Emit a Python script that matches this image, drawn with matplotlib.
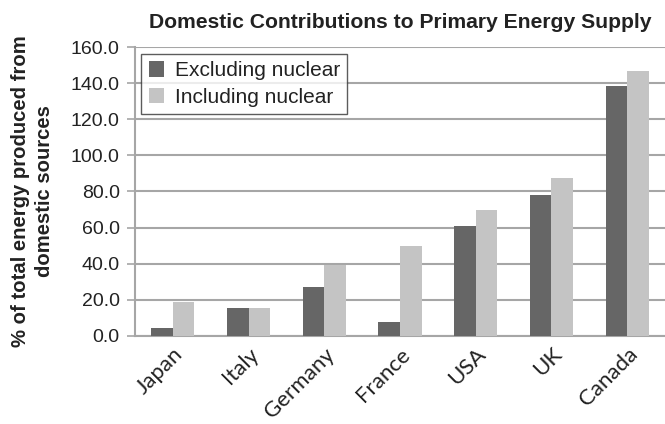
import numpy as np
import matplotlib.pyplot as plt
import matplotlib as mpl
from matplotlib.transforms import ScaledTranslation

countries = ["Japan", "Italy", "Germany", "France", "USA", "UK", "Canada"]
excl_nuclear = [4.1, 15.2, 26.8, 7.4, 60.7, 78.0, 138.6]
incl_nuclear = [18.8, 15.2, 39.0, 49.5, 69.6, 87.3, 147.0]
y_ticks = [0, 20, 40, 60, 80, 100, 120, 140, 160]

DARK = "#666666"
LIGHT = "#c4c4c4"
GRID = "#a6a6a6"
TEXT = "#222222"

mpl.rcParams.update({
    "font.family": ["Liberation Sans", "DejaVu Sans"],
    "axes.spines.top": False,
    "axes.spines.right": False,
})

fig = plt.figure(figsize=(6.65, 4.24), dpi=100)
ax = fig.add_axes([0.203, 0.208, 0.797, 0.681])

x = np.arange(len(countries))
w = 0.285
ax.bar(x - w / 2, excl_nuclear, width=w, color=DARK, label="Excluding nuclear", zorder=3)
ax.bar(x + w / 2, incl_nuclear, width=w, color=LIGHT, label="Including nuclear", zorder=3)

ax.set_xlim(-0.5, len(countries) - 0.5)
ax.set_ylim(0, 160)
ax.set_yticks(y_ticks)
ax.set_yticklabels([f"{v:.1f}" for v in y_ticks], fontsize=14, color=TEXT)
ax.set_xticks(x)
ax.set_xticklabels(countries, rotation=45, ha="right", rotation_mode="anchor",
                   fontsize=16, color=TEXT, family=["Lato", "DejaVu Sans"])
# pull the rotated labels back so their ends sit just right of the tick
for lab in ax.get_xticklabels():
    lab.set_transform(lab.get_transform() +
                      ScaledTranslation(-0.11, 0, fig.dpi_scale_trans))
ax.tick_params(axis="x", length=0, pad=6)
ax.tick_params(axis="y", length=6, color=GRID, width=1.2, pad=5)

ax.set_axisbelow(True)
ax.yaxis.grid(True, color=GRID, linewidth=1.5)
for s in ("left", "bottom"):
    ax.spines[s].set_color(GRID)
    ax.spines[s].set_linewidth(1.5)

ax.set_title("Domestic Contributions to Primary Energy Supply",
             fontsize=15.2, fontweight="bold", color=TEXT, pad=14)
ax.set_ylabel("% of total energy produced from\ndomestic sources",
              fontsize=14.6, fontweight="bold", color=TEXT, labelpad=12,
              linespacing=1.35)

leg = ax.legend(loc="upper left", bbox_to_anchor=(0.012, 0.976), fontsize=15,
                frameon=True, fancybox=False, edgecolor="#333333",
                handlelength=0.75, handleheight=0.75, handletextpad=0.5,
                borderpad=0.35, labelspacing=0.35, borderaxespad=0)
leg.get_frame().set_linewidth(1.0)
for t in leg.get_texts():
    t.set_color(TEXT)

fig.savefig("out.png", dpi=100)
